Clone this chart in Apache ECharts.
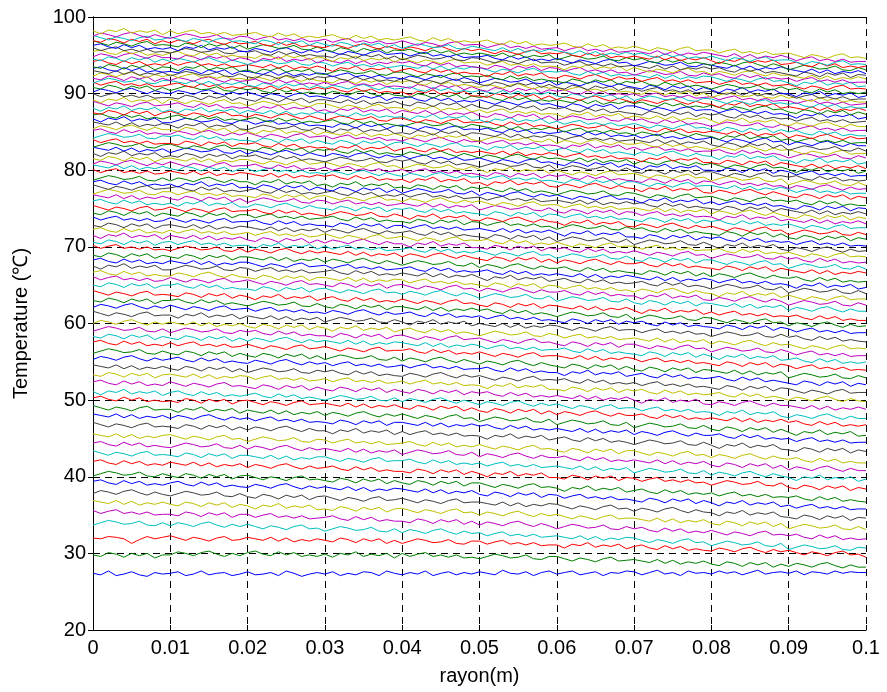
<!DOCTYPE html>
<html><head><meta charset="utf-8">
<script src="https://cdn.jsdelivr.net/npm/echarts@6/dist/echarts.min.js"></script>
<style>html,body{margin:0;padding:0;background:#fff}#chart{width:887px;height:692px}</style>
</head><body><div id="chart"></div>
<script>
// x axis: rayon (m), sampled every 0.001 m from 0 to 0.1
const xTickLabels = ['0','0.01','0.02','0.03','0.04','0.05','0.06','0.07','0.08','0.09','0.1'];
const yTickValues = [20,30,40,50,60,70,80,90,100];
const xStep = 0.001;
// MATLAB classic colour order: b g r c m y k
const lineColors = ['#0000FF','#008000','#FF0000','#00BFBF','#BF00BF','#BFBF00','#404040'];
// temperature of each curve at r = 0 (bottom to top)
const baseLevels = [27.4,29.8,32.0,33.9,35.3,36.6,37.9,39.2,40.3,41.8,
43.0,44.2,45.3,46.7,47.9,48.9,50.1,51.0,52.2,53.3,
54.3,55.4,56.3,57.4,58.3,59.2,60.1,61.2,62.2,63.0,
63.9,65.0,65.8,66.5,67.4,68.1,68.9,69.9,70.6,71.4,
72.1,72.8,73.6,74.4,75.0,75.8,76.5,77.1,77.7,78.3,
78.9,79.8,80.4,80.9,81.5,82.1,82.7,83.2,83.7,84.4,
85.0,85.5,86.0,86.6,87.0,87.5,88.0,88.6,89.1,89.7,
90.3,90.8,91.2,91.6,92.0,92.4,92.7,93.1,93.5,94.0,
94.5,94.9,95.3,95.7,96.1,96.5,96.9,97.2,97.6,98.1];
// per-point offsets from baseLevels, one char per sample, in 0.1 degC steps ('e' = 0)
const offsetAlphabet = '0123456789ABCDEFGHIJKLMNOPQRSTUVWXYZabcdefghijklmnopqrstuvwxyz';
const offsetZero = 40;
const lineProfiles = [
'echbdgcafd egbdhcefbd gcdfbheadf dgbecgfbhe cfdhbegcfd geciedgbfh dfhcegbfeh gcfidfbhef dhegcfidfg ehcgfdhegf f',
'echfbgdgae eigdhjfcgd hjfdiehcec fbgeicfdga gcfhcebeab ZcfdabeZYc cZWaYVZbWX YWUYTXSVTW SQVTPURUOS PTROSUQNRO O',
'edgfdXcgdf hebfdaegbc fdbfaeZcad bZecYdadXb XadbYZcXWa aWZbWYVYUV VRWUYSVTWQ TVRPUQTOQO NRPMQSOLPM OLIMKHLNIJ F',
'cfigdehcbf bfdaegcZda daXbZWacXY UXaYVWZUTX SWURVXTQUR SORTOQNQMN OMKOJNILJM LIFJHEIKFG BEHFCDGBAE 69CA78B659 8',
'hdgidfcfbc cafdZebeYc cYbdYaXaWX YaWUZVYTVT TRWUQVSVPT OSQNRTPMQN JMPNKLOJIM JLHFKGJEGE HEBFDAEGBC AC86B7A575 6',
'hfdhcgbecf cafdZebeYc aWbZdXaYbV WUZXTYVYSW XURVTQUWRS OSQNRTPMQN PMJNLIMOJK KIGKFJEHFI DBGEAFCF9D 69CA78B659 5',
'dhfcgiebfc adgebcfaZd ZXcaWbYbVZ aXUYWTXZUV XURVTQUWRS SQOSNRMPNQ PMJNLIMOJK GKIFJLHEIF EAFDHBECF9 86B95A7A48 7',
'giechdgbdb egcafbeZbZ YcaXbdZWaX ZXVZUYTWUX WUSWRVQTRU PNSQMRORLP OKNPKMJMIJ HFKIEJGJDH EAFDHBECF9 B7AC796956 6',
'cfigdehcbf cafdZebeYc daXbZWacXY WUZXTYVYSW TRWUQVSVPT TQNRPMQSNO MINLPJMKNH JLHFKGJEGE GCFHCEBEAB AC86B7A575 4',
'giechdgbdb fdbfaeZcad YcaXbdZWaX YaWUZVYTVT TRWUQVSVPT QMRPTNQORL LJOMINKNHL KGJLGIFIEF BEHFCDGBAE 86B95A7A48 6',
'ifcgebfhcd cafdZebeYc caYcXbWZXa aXUYWTXZUV VXTRWSVQSQ SORTOQNQMN OMKOJNILJM FILJGHKFEI CGEBFHDAEB 95A8C697A4 7',
'giechdgbdb adgebcfaZd YcaXbdZWaX ZXVZUYTWUX RUXVSTWRQU OSQNRTPMQN NPLJOKNIKI KIGKFJEHFI DBGEAFCF9D 7B96AC8596 6',
'hfdhcgbecf gdaecZdfab XadbYZcXWa ZVYaVXUXTU VXTRWSVQSQ TQNRPMQSNO LJOMINKNHL LIFJHEIKFG CGEBFHDAEB AC86B7A575 5',
'ifcgebfhcd cafdZebeYc YcaXbdZWaX XTYWaUXVYS WSVXSURUQR QMRPTNQORL NPLJOKNIKI FILJGHKFEI EAFDHBECF9 86B95A7A48 6',
'hfdhcgbecf bfdaegcZda cYbdYaXaWX WUZXTYVYSW WUSWRVQTRU RTPNSORMOM OMKOJNILJM GKIFJLHEIF FHDBGCFACA B7AC796956 6',
'ifcgebfhcd dZecgadbeY caYcXbWZXa VZXUYaWTXU XURVTQUWRS NQTROPSNMQ JMPNKLOJIM FILJGHKFEI DBGEAFCF9D 95A8C697A4 5',
'giechdgbdb cafdZebeYc daXbZWacXY ZXVZUYTWUX TRWUQVSVPT PNSQMRORLP KOMJNPLIMJ JLHFKGJEGE GECGBFADBE AC86B7A575 7',
'fbgeicfdga egcafbeZbZ bdZXcYbWYW UXaYVWZUTX SWURVXTQUR OSQNRTPMQN PMJNLIMOJK KGJLGIFIEF EAFDHBECF9 7B96AC8596 6',
'giechdgbdb gdaecZdfab ZXcaWbYbVZ WUZXTYVYSW TRWUQVSVPT RTPNSORMOM OMKOJNILJM IEJHLFIGJD CGEBFHDAEB B97B6A5869 6',
'echfbgdgae fdbfaeZcad cYbdYaXaWX ZVYaVXUXTU WSVXSURUQR QMRPTNQORL LJOMINKNHL JLHFKGJEGE FHDBGCFACA 7B96AC8596 5',
'hfdhcgbecf cafdZebeYc XadbYZcXWa YaWUZVYTVT SWURVXTQUR TQNRPMQSNO NPLJOKNIKI KGJLGIFIEF DBGEAFCF9D C96A859B67 7',
'dhfcgiebfc egcafbeZbZ YcaXbdZWaX ZVYaVXUXTU WSVXSURUQR RTPNSORMOM MINLPJMKNH JLHFKGJEGE FHDBGCFACA 86B95A7A48 6',
'cfigdehcbf cafdZebeYc ZXcaWbYbVZ UXaYVWZUTX SWURVXTQUR OSQNRTPMQN LJOMINKNHL HFKIEJGJDH GECGBFADBE 69CA78B659 6',
'giechdgbdb fbegbdadZa daXbZWacXY aXUYWTXZUV VXTRWSVQSQ TQNRPMQSNO OMKOJNILJM KGJLGIFIEF DBGEAFCF9D B7AC796956 5',
'echfbgdgae cafdZebeYc YcaXbdZWaX ZXVZUYTWUX WUSWRVQTRU SORTOQNQMN NPLJOKNIKI HFKIEJGJDH EAFDHBECF9 AC86B7A575 7',
'cfigdehcbf adgebcfaZd bdZXcYbWYW WUZXTYVYSW XURVTQUWRS TQNRPMQSNO LJOMINKNHL LIFJHEIKFG BEHFCDGBAE B7AC796956 6',
'dhfcgiebfc fdbfaeZcad ZXcaWbYbVZ XTYWaUXVYS VXTRWSVQSQ NQTROPSNMQ OKNPKMJMIJ KIGKFJEHFI CGEBFHDAEB C96A859B67 6',
'ifcgebfhcd dZecgadbeY caYcXbWZXa UXaYVWZUTX UQVTXRUSVP SQOSNRMPNQ PMJNLIMOJK KGJLGIFIEF BEHFCDGBAE AC86B7A575 4',
'dhfcgiebfc gdaecZdfab cYbdYaXaWX VZXUYaWTXU VXTRWSVQSQ SORTOQNQMN LJOMINKNHL JLHFKGJEGE DBGEAFCF9D B7AC796956 6',
'echfbgdgae egcafbeZbZ XadbYZcXWa WUZXTYVYSW WUSWRVQTRU RTPNSORMOM JMPNKLOJIM FILJGHKFEI HEBFDAEGBC 7B96AC8596 7',
'ifcgebfhcd cafdZebeYc aWbZdXaYbV YaWUZVYTVT XURVTQUWRS PNSQMRORLP OMKOJNILJM IEJHLFIGJD GCFHCEBEAB AC86B7A575 5',
'echfbgdgae egcafbeZbZ ZXcaWbYbVZ aXUYWTXZUV SWURVXTQUR NQTROPSNMQ JMPNKLOJIM HFKIEJGJDH GECGBFADBE 7B96AC8596 6',
'hdgidfcfbc gdaecZdfab daXbZWacXY WUZXTYVYSW XURVTQUWRS OSQNRTPMQN NPLJOKNIKI IEJHLFIGJD CGEBFHDAEB 69CA78B659 6',
'giechdgbdb bfdaegcZda ZXcaWbYbVZ ZXVZUYTWUX WSVXSURUQR PNSQMRORLP OKNPKMJMIJ GKIFJLHEIF EAFDHBECF9 C96A859B67 7',
'fbgeicfdga adgebcfaZd cYbdYaXaWX YaWUZVYTVT WUSWRVQTRU QMRPTNQORL NPLJOKNIKI JLHFKGJEGE BEHFCDGBAE 69CA78B659 5',
'giechdgbdb fdbfaeZcad daXbZWacXY ZVYaVXUXTU VXTRWSVQSQ RTPNSORMOM OMKOJNILJM KIGKFJEHFI GCFHCEBEAB 95A8C697A4 6',
'echfbgdgae cafdZebeYc caYcXbWZXa VZXUYaWTXU RUXVSTWRQU OSQNRTPMQN NPLJOKNIKI HFKIEJGJDH CGEBFHDAEB AC86B7A575 6',
'hdgidfcfbc adgebcfaZd YcaXbdZWaX ZXVZUYTWUX SWURVXTQUR PNSQMRORLP KOMJNPLIMJ JLHFKGJEGE DBGEAFCF9D B97B6A5869 7',
'echfbgdgae fbegbdadZa aWbZdXaYbV ZVYaVXUXTU VXTRWSVQSQ TQNRPMQSNO JMPNKLOJIM HFKIEJGJDH HEBFDAEGBC 69CA78B659 5',
'fbgeicfdga fdbfaeZcad ZXcaWbYbVZ VZXUYaWTXU UQVTXRUSVP PNSQMRORLP NPLJOKNIKI LIFJHEIKFG BEHFCDGBAE AC86B7A575 6',
'giechdgbdb fbegbdadZa cYbdYaXaWX aXUYWTXZUV XURVTQUWRS RTPNSORMOM PMJNLIMOJK KGJLGIFIEF FHDBGCFACA C96A859B67 6',
'echfbgdgae fdbfaeZcad caYcXbWZXa VZXUYaWTXU VXTRWSVQSQ PNSQMRORLP JMPNKLOJIM FILJGHKFEI EAFDHBECF9 7B96AC8596 7',
'hdgidfcfbc gdaecZdfab bdZXcYbWYW WUZXTYVYSW WSVXSURUQR SQOSNRMPNQ MINLPJMKNH HFKIEJGJDH FHDBGCFACA B7AC796956 5',
'echfbgdgae cafdZebeYc cYbdYaXaWX YaWUZVYTVT TRWUQVSVPT SORTOQNQMN JMPNKLOJIM JLHFKGJEGE DBGEAFCF9D 86B95A7A48 6',
'ifcgebfhcd gdaecZdfab bdZXcYbWYW UXaYVWZUTX UQVTXRUSVP OSQNRTPMQN MINLPJMKNH GKIFJLHEIF HEBFDAEGBC 69CA78B659 6',
'giechdgbdb dZecgadbeY YcaXbdZWaX WUZXTYVYSW VXTRWSVQSQ PNSQMRORLP OKNPKMJMIJ HFKIEJGJDH FHDBGCFACA C96A859B67 7',
'hfdhcgbecf cafdZebeYc XadbYZcXWa ZVYaVXUXTU WUSWRVQTRU NQTROPSNMQ LJOMINKNHL KGJLGIFIEF EAFDHBECF9 B97B6A5869 5',
'cfigdehcbf fbegbdadZa ZXcaWbYbVZ aXUYWTXZUV SWURVXTQUR TQNRPMQSNO OKNPKMJMIJ KIGKFJEHFI CGEBFHDAEB 86B95A7A48 6',
'ifcgebfhcd egcafbeZbZ bdZXcYbWYW YaWUZVYTVT WSVXSURUQR SORTOQNQMN OMKOJNILJM JLHFKGJEGE DBGEAFCF9D B97B6A5869 6',
'giechdgbdb dZecgadbeY ZXcaWbYbVZ WUZXTYVYSW RUXVSTWRQU OSQNRTPMQN PMJNLIMOJK IEJHLFIGJD GCFHCEBEAB 86B95A7A48 7',
'cfigdehcbf bfdaegcZda aWbZdXaYbV XTYWaUXVYS TRWUQVSVPT RTPNSORMOM JMPNKLOJIM LIFJHEIKFG HEBFDAEGBC AC86B7A575 5',
'hdgidfcfbc fdbfaeZcad caYcXbWZXa YaWUZVYTVT UQVTXRUSVP QMRPTNQORL KOMJNPLIMJ IEJHLFIGJD CGEBFHDAEB 86B95A7A48 6',
'hfdhcgbecf cafdZebeYc cYbdYaXaWX VZXUYaWTXU SWURVXTQUR SORTOQNQMN LJOMINKNHL LIFJHEIKFG GECGBFADBE B7AC796956 6',
'dhfcgiebfc gdaecZdfab bdZXcYbWYW ZVYaVXUXTU WSVXSURUQR PNSQMRORLP NPLJOKNIKI HFKIEJGJDH GCFHCEBEAB 7B96AC8596 7',
'echfbgdgae fdbfaeZcad daXbZWacXY aXUYWTXZUV RUXVSTWRQU QMRPTNQORL PMJNLIMOJK LIFJHEIKFG BEHFCDGBAE 69CA78B659 5',
'fbgeicfdga cafdZebeYc bdZXcYbWYW UXaYVWZUTX VXTRWSVQSQ NQTROPSNMQ JMPNKLOJIM HFKIEJGJDH HEBFDAEGBC AC86B7A575 6',
'hfdhcgbecf adgebcfaZd YcaXbdZWaX VZXUYaWTXU WSVXSURUQR TQNRPMQSNO LJOMINKNHL IEJHLFIGJD DBGEAFCF9D B7AC796956 6',
'cfigdehcbf gdaecZdfab ZXcaWbYbVZ YaWUZVYTVT SWURVXTQUR OSQNRTPMQN OMKOJNILJM GKIFJLHEIF HEBFDAEGBC 95A8C697A4 7',
'hdgidfcfbc cafdZebeYc bdZXcYbWYW XTYWaUXVYS VXTRWSVQSQ SQOSNRMPNQ OKNPKMJMIJ IEJHLFIGJD DBGEAFCF9D B97B6A5869 5',
'cfigdehcbf egcafbeZbZ ZXcaWbYbVZ WUZXTYVYSW XURVTQUWRS QMRPTNQORL NPLJOKNIKI GKIFJLHEIF EAFDHBECF9 95A8C697A4 6',
'giechdgbdb bfdaegcZda daXbZWacXY ZVYaVXUXTU SWURVXTQUR SORTOQNQMN MINLPJMKNH KGJLGIFIEF FHDBGCFACA 69CA78B659 6',
'dhfcgiebfc cafdZebeYc aWbZdXaYbV ZXVZUYTWUX UQVTXRUSVP NQTROPSNMQ KOMJNPLIMJ JLHFKGJEGE CGEBFHDAEB C96A859B67 7',
'hfdhcgbecf dZecgadbeY XadbYZcXWa XTYWaUXVYS TRWUQVSVPT SQOSNRMPNQ OKNPKMJMIJ KIGKFJEHFI DBGEAFCF9D 69CA78B659 5',
'fbgeicfdga adgebcfaZd cYbdYaXaWX WUZXTYVYSW XURVTQUWRS RTPNSORMOM NPLJOKNIKI KGJLGIFIEF HEBFDAEGBC 7B96AC8596 6',
'giechdgbdb egcafbeZbZ bdZXcYbWYW YaWUZVYTVT RUXVSTWRQU SQOSNRMPNQ OKNPKMJMIJ GKIFJLHEIF EAFDHBECF9 B7AC796956 6',
'echfbgdgae gdaecZdfab YcaXbdZWaX UXaYVWZUTX XURVTQUWRS RTPNSORMOM JMPNKLOJIM JLHFKGJEGE GECGBFADBE 7B96AC8596 7',
'fbgeicfdga dZecgadbeY caYcXbWZXa YaWUZVYTVT UQVTXRUSVP QMRPTNQORL OKNPKMJMIJ LIFJHEIKFG DBGEAFCF9D AC86B7A575 5',
'ifcgebfhcd egcafbeZbZ aWbZdXaYbV XTYWaUXVYS WUSWRVQTRU PNSQMRORLP JMPNKLOJIM JLHFKGJEGE BEHFCDGBAE B7AC796956 6',
'fbgeicfdga gdaecZdfab XadbYZcXWa aXUYWTXZUV UQVTXRUSVP SORTOQNQMN MINLPJMKNH KIGKFJEHFI EAFDHBECF9 7B96AC8596 6',
'hdgidfcfbc cafdZebeYc ZXcaWbYbVZ ZXVZUYTWUX TRWUQVSVPT PNSQMRORLP NPLJOKNIKI HFKIEJGJDH FHDBGCFACA B7AC796956 7',
'dhfcgiebfc bfdaegcZda daXbZWacXY WUZXTYVYSW VXTRWSVQSQ TQNRPMQSNO LJOMINKNHL LIFJHEIKFG GCFHCEBEAB 95A8C697A4 6',
'echfbgdgae adgebcfaZd bdZXcYbWYW VZXUYaWTXU TRWUQVSVPT RTPNSORMOM OMKOJNILJM JLHFKGJEGE HEBFDAEGBC 86B95A7A48 5',
'hdgidfcfbc egcafbeZbZ caYcXbWZXa YaWUZVYTVT UQVTXRUSVP PNSQMRORLP KOMJNPLIMJ GKIFJLHEIF EAFDHBECF9 B97B6A5869 6',
'cfigdehcbf fdbfaeZcad ZXcaWbYbVZ VZXUYaWTXU VXTRWSVQSQ SQOSNRMPNQ LJOMINKNHL FILJGHKFEI HEBFDAEGBC AC86B7A575 6',
'echfbgdgae bfdaegcZda bdZXcYbWYW ZVYaVXUXTU TRWUQVSVPT PNSQMRORLP NPLJOKNIKI KGJLGIFIEF GCFHCEBEAB B7AC796956 7',
'dhfcgiebfc fbegbdadZa YcaXbdZWaX WUZXTYVYSW VXTRWSVQSQ OSQNRTPMQN OKNPKMJMIJ HFKIEJGJDH BEHFCDGBAE AC86B7A575 5',
'hfdhcgbecf adgebcfaZd ZXcaWbYbVZ YaWUZVYTVT XURVTQUWRS PNSQMRORLP LJOMINKNHL KGJLGIFIEF GECGBFADBE B7AC796956 6',
'giechdgbdb cafdZebeYc caYcXbWZXa ZVYaVXUXTU SWURVXTQUR NQTROPSNMQ KOMJNPLIMJ HFKIEJGJDH EAFDHBECF9 95A8C697A4 6',
'echfbgdgae dZecgadbeY aWbZdXaYbV UXaYVWZUTX XURVTQUWRS RTPNSORMOM LJOMINKNHL JLHFKGJEGE BEHFCDGBAE AC86B7A575 7',
'giechdgbdb fbegbdadZa caYcXbWZXa XTYWaUXVYS VXTRWSVQSQ QMRPTNQORL KOMJNPLIMJ KGJLGIFIEF GCFHCEBEAB C96A859B67 6',
'echfbgdgae bfdaegcZda XadbYZcXWa ZVYaVXUXTU WUSWRVQTRU TQNRPMQSNO NPLJOKNIKI KIGKFJEHFI HEBFDAEGBC 95A8C697A4 5',
'dhfcgiebfc cafdZebeYc aWbZdXaYbV ZXVZUYTWUX VXTRWSVQSQ PNSQMRORLP OKNPKMJMIJ FILJGHKFEI FHDBGCFACA B7AC796956 6',
'giechdgbdb egcafbeZbZ ZXcaWbYbVZ XTYWaUXVYS XURVTQUWRS SORTOQNQMN MINLPJMKNH LIFJHEIKFG CGEBFHDAEB B97B6A5869 6',
'hdgidfcfbc adgebcfaZd bdZXcYbWYW WUZXTYVYSW RUXVSTWRQU TQNRPMQSNO OKNPKMJMIJ KIGKFJEHFI FHDBGCFACA 86B95A7A48 7',
'giechdgbdb dZecgadbeY YcaXbdZWaX aXUYWTXZUV WSVXSURUQR RTPNSORMOM PMJNLIMOJK FILJGHKFEI GECGBFADBE B97B6A5869 5',
'ifcgebfhcd cafdZebeYc XadbYZcXWa WUZXTYVYSW VXTRWSVQSQ SQOSNRMPNQ JMPNKLOJIM JLHFKGJEGE CGEBFHDAEB 69CA78B659 6',
'echfbgdgae bfdaegcZda bdZXcYbWYW VZXUYaWTXU SWURVXTQUR TQNRPMQSNO NPLJOKNIKI KIGKFJEHFI EAFDHBECF9 AC86B7A575 7',
'ifcgebfhcd gdaecZdfab ZXcaWbYbVZ WUZXTYVYSW RUXVSTWRQU SQOSNRMPNQ OMKOJNILJM JLHFKGJEGE HEBFDAEGBC C96A859B67 6',
'dhfcgiebfc adgebcfaZd cYbdYaXaWX ZVYaVXUXTU XURVTQUWRS SORTOQNQMN OKNPKMJMIJ KIGKFJEHFI GECGBFADBE B7AC796956 6',
'fbgeicfdga fbegbdadZa bdZXcYbWYW YaWUZVYTVT VXTRWSVQSQ RTPNSORMOM NPLJOKNIKI LIFJHEIKFG GCFHCEBEAB C96A859B67 5'
];

const fontFamily = '"Liberation Sans", Arial, Helvetica, sans-serif';

const series = baseLevels.map(function (base, i) {
  const chars = lineProfiles[i].replace(/ /g, '').split('');
  const data = chars.map(function (c, k) {
    return [+(k * xStep).toFixed(3), +(base + (offsetAlphabet.indexOf(c) - offsetZero) / 10).toFixed(2)];
  });
  return {
    type: 'line', data: data, xAxisIndex: 0, yAxisIndex: 0,
    symbol: 'none', showSymbol: false, silent: true, animation: false,
    lineStyle: { width: 1, color: lineColors[i % lineColors.length] },
    itemStyle: { color: lineColors[i % lineColors.length] }
  };
});

const axisCommonLine = { show: true, lineStyle: { color: '#000', width: 1 } };
const tickInside = { show: true, inside: true, length: 5, lineStyle: { color: '#000', width: 1 } };
const gridDash = { show: true, lineStyle: { color: '#000', width: 1, type: [7, 5] } };

const chart = echarts.init(document.getElementById('chart'), null, { renderer: 'canvas' });
chart.setOption({
  backgroundColor: '#fff',
  animation: false,
  grid: { left: 93, right: 21, top: 17, bottom: 62, containLabel: false },
  xAxis: [
    {
      type: 'value', position: 'bottom', min: 0, max: 0.1, interval: 0.01,
      axisLine: axisCommonLine, axisTick: tickInside, splitLine: gridDash,
      axisLabel: { show: true, margin: 8, color: '#000', fontSize: 20, fontFamily: fontFamily,
        formatter: function (v) { return xTickLabels[Math.round(v * 100)]; } },
      name: 'rayon(m)', nameLocation: 'middle', nameGap: 36,
      nameTextStyle: { color: '#000', fontSize: 20, fontFamily: fontFamily }
    },
    {
      type: 'value', position: 'top', min: 0, max: 0.1, interval: 0.01,
      axisLine: axisCommonLine, axisTick: tickInside, splitLine: { show: false },
      axisLabel: { show: false }
    }
  ],
  yAxis: [
    {
      type: 'value', position: 'left', min: yTickValues[0], max: yTickValues[yTickValues.length - 1], interval: 10,
      axisLine: axisCommonLine, axisTick: tickInside, splitLine: gridDash,
      axisLabel: { show: true, margin: 7, color: '#000', fontSize: 20, fontFamily: fontFamily },
      name: 'Temperature (℃)', nameLocation: 'middle', nameGap: 62, nameRotate: 90,
      nameTextStyle: { color: '#000', fontSize: 20, fontFamily: fontFamily }
    },
    {
      type: 'value', position: 'right', min: yTickValues[0], max: yTickValues[yTickValues.length - 1], interval: 10,
      axisLine: axisCommonLine, axisTick: tickInside, splitLine: { show: false },
      axisLabel: { show: false }
    }
  ],
  series: series
});
</script>
</body></html>
